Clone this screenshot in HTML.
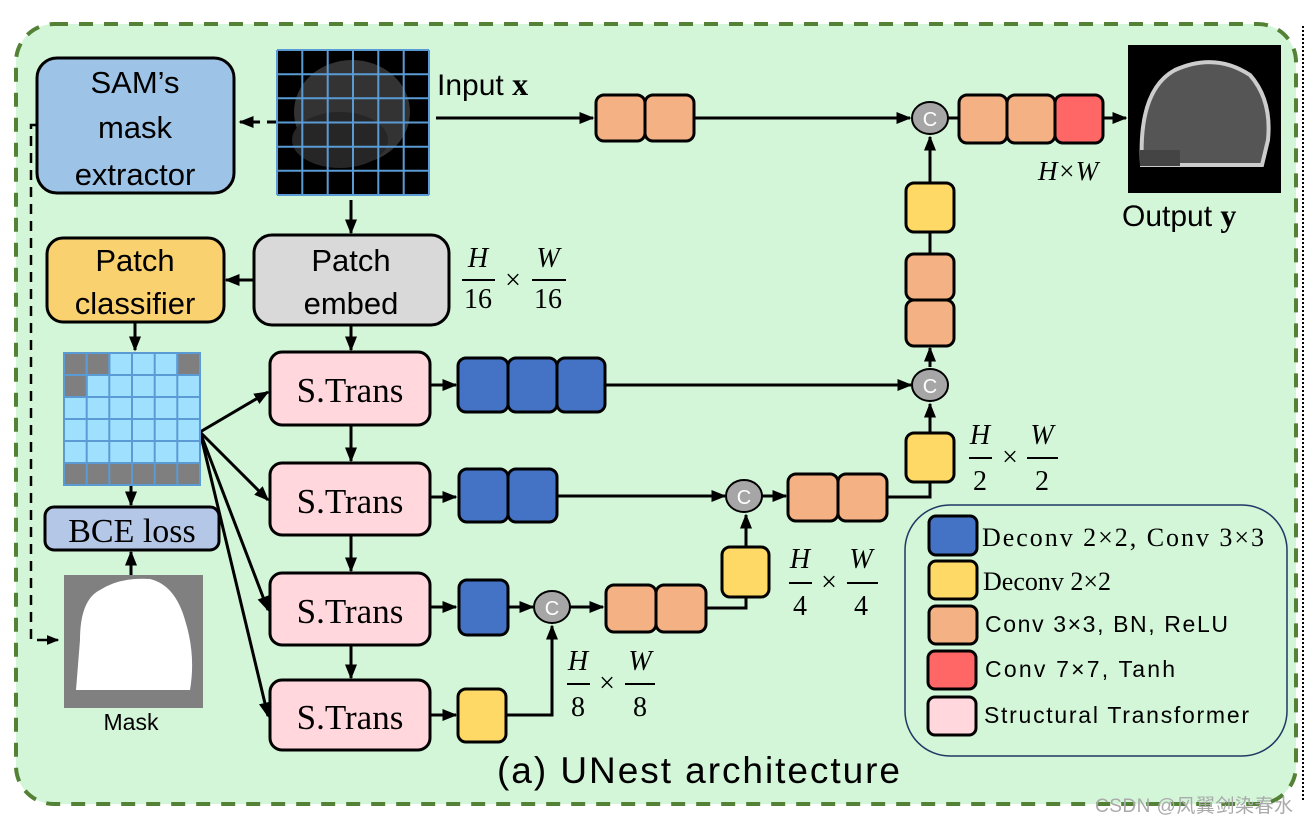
<!DOCTYPE html>
<html><head><meta charset="utf-8"><style>
html,body{margin:0;padding:0;background:#fff;}
svg{display:block;}
text{font-family:"Liberation Sans","DejaVu Sans",sans-serif;}
text.ser,.ser text{font-family:"Liberation Serif","DejaVu Serif",serif;}
</style></head><body>
<svg width="1308" height="825" viewBox="0 0 1308 825" xmlns="http://www.w3.org/2000/svg">
<defs>
<marker id="ah" viewBox="0 0 10 10" refX="9" refY="5" markerWidth="5" markerHeight="5" orient="auto-start-reverse" markerUnits="strokeWidth"><path d="M0,1 L10,5 L0,9 z" fill="#000"/></marker>
</defs>
<rect x="16" y="24" width="1280" height="780" rx="38" fill="#d3f5d8" stroke="#538135" stroke-width="4" stroke-dasharray="14,11"/>
<line x1="1303" y1="26" x2="1303" y2="800" stroke="#000" stroke-width="2" stroke-dasharray="2,2"/>

<g fill="none" stroke="#000" stroke-width="3">
<path d="M37,125 H31 V640 H58" stroke-dasharray="10,7" stroke-width="2.5" marker-end="url(#ah)"/>
<path d="M277,122 H240" stroke-dasharray="10,7" marker-end="url(#ah)"/>
<path d="M436,118 H593" marker-end="url(#ah)"/>
<path d="M695,118 H910" marker-end="url(#ah)"/>
<path d="M1103,118 H1126" marker-end="url(#ah)"/>
<path d="M351,200 V233" marker-end="url(#ah)"/>
<path d="M254,280 H226" marker-end="url(#ah)"/>
<path d="M135,322 V350" marker-end="url(#ah)"/>
<path d="M351,325 V350" marker-end="url(#ah)"/>
<path d="M131,485 V505" marker-end="url(#ah)"/>
<path d="M131,575 V552" marker-end="url(#ah)"/>
<path d="M351,425 V461" marker-end="url(#ah)"/>
<path d="M351,535 V571" marker-end="url(#ah)"/>
<path d="M351,645 V678" marker-end="url(#ah)"/>
<path d="M200,432 L268,392" marker-end="url(#ah)"/>
<path d="M200,432 L268,500" marker-end="url(#ah)"/>
<path d="M200,432 L268,610" marker-end="url(#ah)"/>
<path d="M200,432 L268,716" marker-end="url(#ah)"/>
<path d="M430,385 H456" marker-end="url(#ah)"/>
<path d="M430,497 H456" marker-end="url(#ah)"/>
<path d="M430,607 H456" marker-end="url(#ah)"/>
<path d="M430,715 H456" marker-end="url(#ah)"/>
<path d="M605,385 H911" marker-end="url(#ah)"/>
<path d="M557,496 H725" marker-end="url(#ah)"/>
<path d="M508,607 H533" marker-end="url(#ah)"/>
<path d="M570,607 H603" marker-end="url(#ah)"/>
<path d="M506,715 H552 V626" marker-end="url(#ah)"/>
<path d="M706,608 H746 V597"/>
<path d="M746,547 V515" marker-end="url(#ah)"/>
<path d="M762,496 H786" marker-end="url(#ah)"/>
<path d="M887,497 H930 V482"/>
<path d="M930,433 V404" marker-end="url(#ah)"/>
<path d="M930,367 V348" marker-end="url(#ah)"/>
<path d="M930,253 V232"/>
<path d="M930,183 V137" marker-end="url(#ah)"/>
<path d="M948,118 H958"/>
</g>

<rect x="37" y="58" width="197" height="135" rx="20" fill="#9dc3e6" stroke="#000" stroke-width="3"/>
<text x="135" y="93" font-size="31" text-anchor="middle">SAM’s</text>
<text x="135" y="138" font-size="31" text-anchor="middle">mask</text>
<text x="135" y="185" font-size="31" text-anchor="middle">extractor</text>

<rect x="277" y="50" width="152" height="145" fill="#000"/>
<ellipse cx="352" cy="112" rx="58" ry="52" fill="#333"/>
<ellipse cx="340" cy="140" rx="48" ry="28" fill="#262626"/>
<rect x="277" y="170" width="152" height="25" fill="#000"/>
<g stroke="#5b9bd5" stroke-width="2">
<path d="M277,50 V195 M302.3,50 V195 M327.7,50 V195 M353,50 V195 M378.3,50 V195 M403.7,50 V195 M429,50 V195"/>
<path d="M277,50 H429 M277,74.2 H429 M277,98.3 H429 M277,122.5 H429 M277,146.7 H429 M277,170.8 H429 M277,195 H429"/>
</g>
<text x="437" y="95" font-size="30">Input <tspan font-family="Liberation Serif" font-weight="bold" font-size="32">x</tspan></text>

<g stroke="#000" stroke-width="3">
<rect x="596" y="95" width="49" height="46" rx="8" fill="#f4b183"/>
<rect x="645" y="95" width="49" height="46" rx="8" fill="#f4b183"/>
<rect x="959" y="95" width="48" height="48" rx="8" fill="#f4b183"/>
<rect x="1007" y="95" width="48" height="48" rx="8" fill="#f4b183"/>
<rect x="1055" y="95" width="48" height="48" rx="8" fill="#ff6666"/>
</g>
<rect x="1128" y="45" width="153" height="148" fill="#000"/>
<path d="M1142,165 Q1138,90 1175,70 Q1215,52 1250,75 Q1272,100 1268,140 L1262,165 Z" fill="#555" stroke="#ccc" stroke-width="4"/>
<rect x="1140" y="150" width="40" height="16" fill="#444"/>
<text x="1038" y="180" font-size="27" class="ser" font-style="italic">H×W</text>
<text x="1122" y="226" font-size="30">Output <tspan font-family="Liberation Serif" font-weight="bold" font-size="32">y</tspan></text>

<rect x="254" y="235" width="195" height="90" rx="18" fill="#d9d9d9" stroke="#000" stroke-width="3"/>
<text x="351" y="271" font-size="31" text-anchor="middle">Patch</text>
<text x="351" y="314" font-size="31" text-anchor="middle">embed</text>
<rect x="47" y="238" width="177" height="84" rx="16" fill="#f9d16f" stroke="#000" stroke-width="3"/>
<text x="135" y="271" font-size="31" text-anchor="middle">Patch</text>
<text x="135" y="314" font-size="31" text-anchor="middle">classifier</text>

<g class="ser" font-size="28">
<text x="478" y="267" text-anchor="middle" font-style="italic">H</text>
<line x1="462" y1="280" x2="495" y2="280" stroke="#000" stroke-width="2"/>
<text x="478" y="308" text-anchor="middle">16</text>
<text x="513" y="289" text-anchor="middle">×</text>
<text x="548" y="267" text-anchor="middle" font-style="italic">W</text>
<line x1="532" y1="280" x2="566" y2="280" stroke="#000" stroke-width="2"/>
<text x="548" y="308" text-anchor="middle">16</text>
</g>

<g stroke="#5b9bd5" stroke-width="2">
<rect x="64" y="353" width="136" height="132" fill="#a0e0ff"/>
<rect x="64" y="353" width="22.7" height="22" fill="#7f7f7f"/>
<rect x="86.7" y="353" width="22.7" height="22" fill="#7f7f7f"/>
<rect x="177.3" y="353" width="22.7" height="22" fill="#7f7f7f"/>
<rect x="64" y="375" width="22.7" height="22" fill="#7f7f7f"/>
<rect x="64" y="463" width="136" height="22" fill="#7f7f7f"/>
<path d="M86.7,353 V485 M109.3,353 V485 M132,353 V485 M154.7,353 V485 M177.3,353 V485 M64,375 H200 M64,397 H200 M64,419 H200 M64,441 H200 M64,463 H200" fill="none"/>
</g>

<rect x="45" y="507" width="174" height="43" rx="9" fill="#b4c7e7" stroke="#000" stroke-width="3"/>
<text x="132" y="542" font-size="34" text-anchor="middle" class="ser">BCE loss</text>

<rect x="64" y="575" width="139" height="133" fill="#808080"/>
<path d="M76,690 L80,640 Q80,600 100,590 Q120,577 150,579 Q175,585 185,620 Q196,655 190,690 Z" fill="#fff"/>
<text x="131" y="730" font-size="23" text-anchor="middle">Mask</text>

<g stroke="#000" stroke-width="3" fill="#ffd7dd">
<rect x="270" y="352" width="160" height="73" rx="12"/>
<rect x="270" y="463" width="160" height="72" rx="12"/>
<rect x="270" y="573" width="160" height="72" rx="12"/>
<rect x="270" y="680" width="160" height="70" rx="12"/>
</g>
<g class="ser" font-size="35" text-anchor="middle">
<text x="350" y="402">S.Trans</text>
<text x="350" y="513">S.Trans</text>
<text x="350" y="623">S.Trans</text>
<text x="350" y="729">S.Trans</text>
</g>

<g stroke="#000" stroke-width="3">
<rect x="458" y="358" width="50" height="54" rx="8" fill="#4472c4"/>
<rect x="508" y="358" width="49" height="54" rx="8" fill="#4472c4"/>
<rect x="557" y="358" width="48" height="54" rx="8" fill="#4472c4"/>
<rect x="459" y="469" width="49" height="53" rx="8" fill="#4472c4"/>
<rect x="508" y="469" width="49" height="53" rx="8" fill="#4472c4"/>
<rect x="459" y="580" width="49" height="55" rx="8" fill="#4472c4"/>
<rect x="458" y="689" width="48" height="53" rx="8" fill="#ffd966"/>
<rect x="606" y="585" width="50" height="47" rx="8" fill="#f4b183"/>
<rect x="656" y="585" width="50" height="47" rx="8" fill="#f4b183"/>
<rect x="722" y="547" width="47" height="50" rx="8" fill="#ffd966"/>
<rect x="788" y="474" width="50" height="47" rx="8" fill="#f4b183"/>
<rect x="838" y="474" width="49" height="47" rx="8" fill="#f4b183"/>
<rect x="906" y="433" width="48" height="49" rx="8" fill="#ffd966"/>
<rect x="906" y="300" width="48" height="46" rx="8" fill="#f4b183"/>
<rect x="906" y="254" width="48" height="46" rx="8" fill="#f4b183"/>
<rect x="906" y="183" width="48" height="49" rx="8" fill="#ffd966"/>
</g>

<g stroke="#000" stroke-width="2" fill="#a6a6a6">
<ellipse cx="552" cy="607" rx="18" ry="16"/>
<ellipse cx="744" cy="496" rx="18" ry="16"/>
<ellipse cx="930" cy="385" rx="18" ry="16"/>
<ellipse cx="930" cy="118" rx="18" ry="16"/>
</g>
<g fill="#fff" font-size="20" text-anchor="middle">
<text x="552" y="615">C</text><text x="744" y="504">C</text><text x="930" y="393">C</text><text x="930" y="126">C</text>
</g>

<g class="ser" font-size="28" text-anchor="middle">
<text x="578" y="670" font-style="italic">H</text>
<line x1="567" y1="684" x2="590" y2="684" stroke="#000" stroke-width="2"/>
<text x="578" y="716">8</text>
<text x="607" y="692">×</text>
<text x="640" y="670" font-style="italic">W</text>
<line x1="625" y1="684" x2="655" y2="684" stroke="#000" stroke-width="2"/>
<text x="640" y="716">8</text>

<text x="800" y="568" font-style="italic">H</text>
<line x1="789" y1="583" x2="812" y2="583" stroke="#000" stroke-width="2"/>
<text x="800" y="615">4</text>
<text x="829" y="591">×</text>
<text x="861" y="568" font-style="italic">W</text>
<line x1="847" y1="583" x2="878" y2="583" stroke="#000" stroke-width="2"/>
<text x="861" y="615">4</text>

<text x="980" y="444" font-style="italic">H</text>
<line x1="969" y1="458" x2="992" y2="458" stroke="#000" stroke-width="2"/>
<text x="980" y="490">2</text>
<text x="1010" y="466">×</text>
<text x="1042" y="444" font-style="italic">W</text>
<line x1="1027" y1="458" x2="1058" y2="458" stroke="#000" stroke-width="2"/>
<text x="1042" y="490">2</text>
</g>

<rect x="905" y="505" width="382" height="251" rx="45" fill="none" stroke="#1f3864" stroke-width="1.5"/>
<g stroke="#000" stroke-width="3">
<rect x="929" y="516" width="48" height="39" rx="7" fill="#4472c4"/>
<rect x="929" y="561" width="48" height="38" rx="7" fill="#ffd966"/>
<rect x="929" y="606" width="48" height="38" rx="7" fill="#f4b183"/>
<rect x="928" y="651" width="48" height="38" rx="7" fill="#ff6666"/>
<rect x="928" y="697" width="48" height="38" rx="7" fill="#ffd7dd"/>
</g>
<text x="982" y="546" font-size="26" class="ser" textLength="282">Deconv 2×2, Conv 3×3</text>
<text x="983" y="590" font-size="26" class="ser">Deconv 2×2</text>
<text x="985" y="632" font-size="23" textLength="243">Conv 3×3, BN, ReLU</text>
<text x="985" y="677" font-size="23" textLength="190">Conv 7×7, Tanh</text>
<text x="984" y="723" font-size="23" textLength="265">Structural Transformer</text>

<text x="497" y="783" font-size="37" textLength="403">(a) UNest architecture</text>
<text x="1095" y="812" font-size="19" fill="#aaa" font-family="Liberation Sans, Noto Sans CJK SC, sans-serif" textLength="198">CSDN @风翼剑染春水</text>
</svg>
</body></html>
